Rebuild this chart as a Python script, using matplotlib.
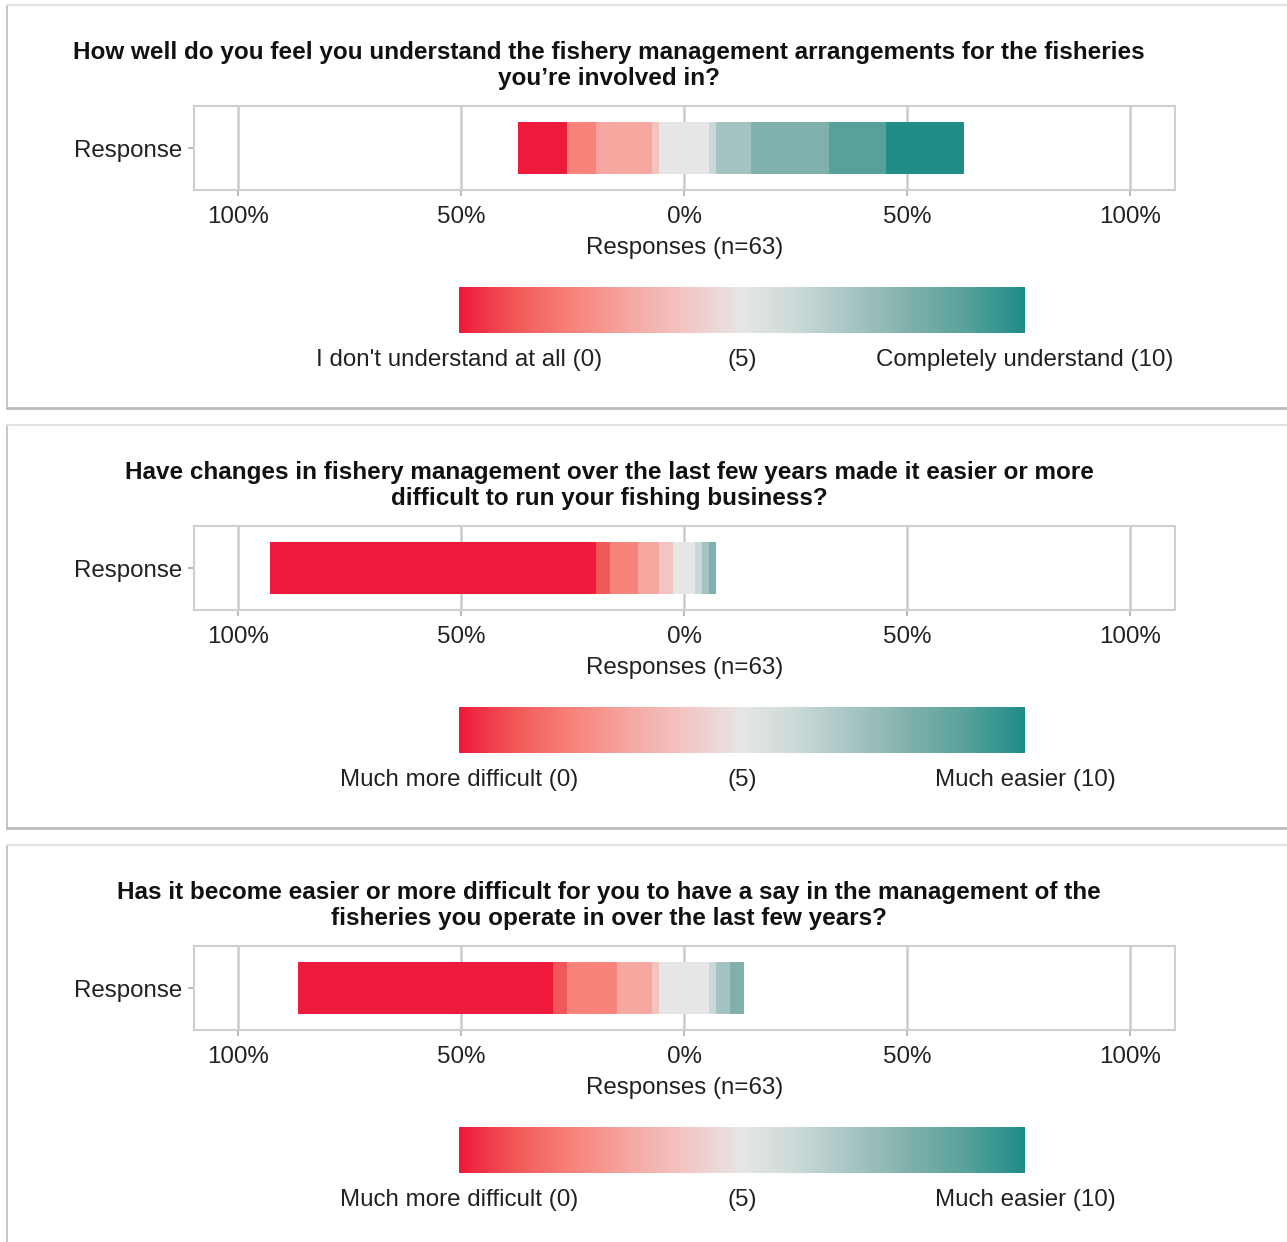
import matplotlib
matplotlib.use("Agg")
import matplotlib.pyplot as plt
import numpy as np
from matplotlib.colors import LinearSegmentedColormap, Normalize
from matplotlib.cm import ScalarMappable
from matplotlib.lines import Line2D

plt.rcParams['font.family'] = ['Liberation Sans', 'DejaVu Sans']

# ---------------- data ----------------
n_responses = 63
levels = list(range(11))  # 0..10

titles = [
    ["How well do you feel you understand the fishery management arrangements for the fisheries",
     "you\u2019re involved in?"],
    ["Have changes in fishery management over the last few years made it easier or more",
     "difficult to run your fishing business?"],
    ["Has it become easier or more difficult for you to have a say in the management of the",
     "fisheries you operate in over the last few years?"],
]

counts_q1 = [7, 0, 4, 8, 1, 7, 1, 5, 11, 8, 11]
counts_q2 = [46, 2, 4, 3, 2, 3, 1, 1, 1, 0, 0]
counts_q3 = [36, 2, 7, 5, 1, 7, 1, 2, 2, 0, 0]
counts = [counts_q1, counts_q2, counts_q3]

low_labels = ["I don't understand at all (0)", "Much more difficult (0)", "Much more difficult (0)"]
mid_labels = ["(5)", "(5)", "(5)"]
high_labels = ["Completely understand (10)", "Much easier (10)", "Much easier (10)"]

xtick_vals = [-100, -50, 0, 50, 100]
xtick_labels = ["100%", "50%", "0%", "50%", "100%"]
y_label = "Response"
x_label = "Responses (n=63)"

level_colors = ["#EE1A3B", "#F25858", "#F7837B", "#F5A7A0", "#F2C5C3", "#E6E6E6",
                "#C9D9D7", "#A3C4C1", "#7FB0AB", "#56A19A", "#1F8C87"]

# ---------------- layout ----------------
W, H = 1287, 1242
fig = plt.figure(figsize=(W / 100, H / 100), dpi=100)
fig.patch.set_facecolor("white")


def fx(x):
    return x / W


def fy(y):
    return 1 - y / H


def add_ax(x0, y0, x1, y1):
    return fig.add_axes([fx(x0), fy(y1), (x1 - x0) / W, (y1 - y0) / H])


cmap = LinearSegmentedColormap.from_list("div", level_colors)
grid_col = "#CCCCCC"
FS = 17.4
TFS = 17.5

for i in range(3):
    off = 420 * i
    # panel frame
    fig.add_artist(Line2D([fx(7), fx(7)], [fy(5 + off), fy(408 + off)], color="#C8C8C8", lw=1.5))
    fig.add_artist(Line2D([fx(7), fx(1287)], [fy(5 + off), fy(5 + off)], color="#E2E2E2", lw=1.5))
    fig.add_artist(Line2D([fx(7), fx(1287)], [fy(408 + off), fy(408 + off)], color="#BBBBBB", lw=2))

    # title
    fig.text(fx(609), fy(52.5 + off), titles[i][0], ha="center", va="center",
             fontsize=TFS, fontweight="bold", color="#111111")
    fig.text(fx(609), fy(78.5 + off), titles[i][1], ha="center", va="center",
             fontsize=TFS, fontweight="bold", color="#111111")

    # bar axes
    ax = add_ax(194, 106 + off, 1175, 190 + off)
    c = counts[i]
    pct = [v / n_responses * 100 for v in c]
    left = -(sum(pct[:5]) + pct[5] / 2)
    for lv, p in zip(levels, pct):
        if p > 0:
            ax.barh(0, p, left=left, height=0.63, color=level_colors[lv], edgecolor="none", zorder=3)
        left += p
    ax.set_xlim(-109.9, 110.1)
    ax.set_ylim(-0.5, 0.5)
    ax.set_xticks(xtick_vals)
    ax.set_xticklabels(xtick_labels)
    ax.set_yticks([0])
    ax.set_yticklabels([y_label])
    ax.grid(axis="x", color=grid_col, lw=1.8, zorder=0)
    for s in ax.spines.values():
        s.set_color("#CFCFCF")
        s.set_linewidth(1.5)
    ax.tick_params(axis="both", colors="#BBBBBB", labelcolor="#222222", labelsize=FS,
                   length=4, width=1.5)
    ax.tick_params(axis="x", pad=7.5)
    ax.tick_params(axis="y", pad=4.5)
    ax.set_xlabel(x_label, fontsize=FS, color="#222222", labelpad=6.5)

    # colour legend
    cax = add_ax(459, 287 + off, 1025, 333 + off)
    sm = ScalarMappable(norm=Normalize(0, 10), cmap=cmap)
    cb = fig.colorbar(sm, cax=cax, orientation="horizontal", ticks=[0, 5, 10])
    cb.outline.set_visible(False)
    cb.ax.set_xticklabels([low_labels[i], mid_labels[i], high_labels[i]])
    cb.ax.tick_params(length=0, labelsize=FS, labelcolor="#222222", pad=11.5)

fig.savefig("out.png", dpi=100, facecolor="white")
